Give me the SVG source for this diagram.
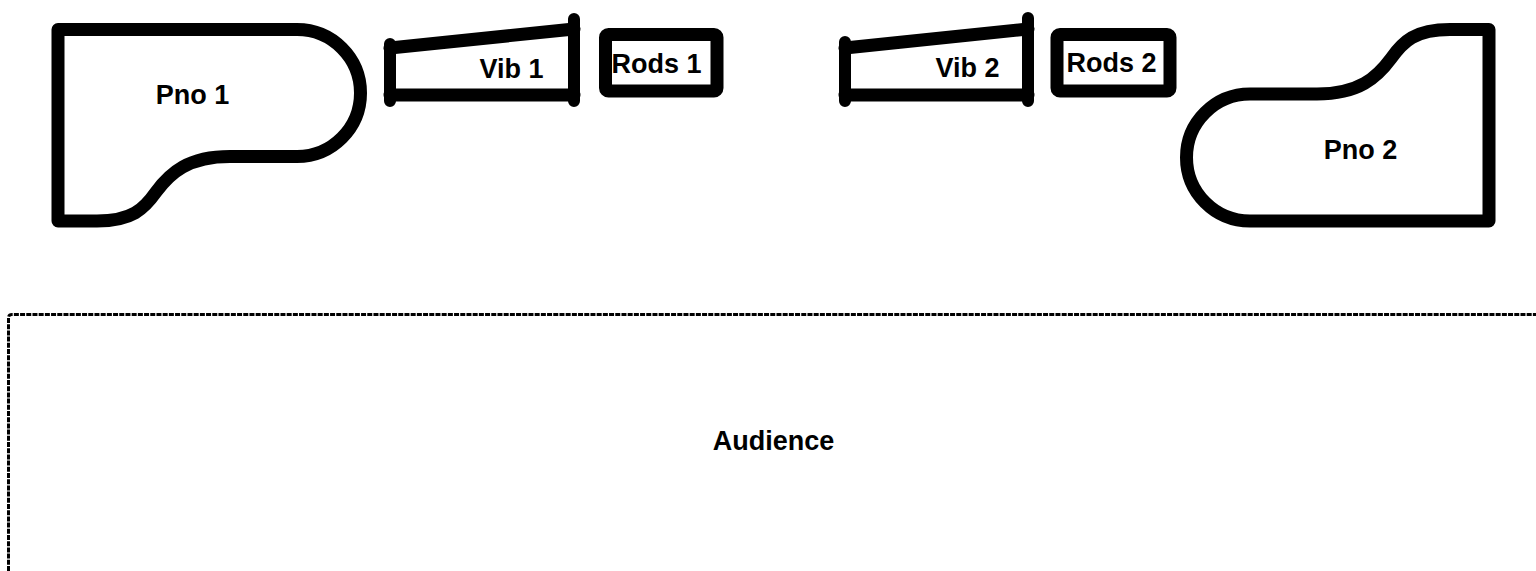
<svg xmlns="http://www.w3.org/2000/svg" width="1536" height="571" viewBox="0 0 1536 571">
<style>
.outline{fill:none;stroke:#000;stroke-width:13;stroke-linejoin:round;stroke-linecap:round}
.post{fill:none;stroke:#000;stroke-width:12;stroke-linecap:round}
.lbl{font-family:"Liberation Sans",Arial,sans-serif;font-weight:bold;font-size:27px;fill:#000}
.aud{fill:none;stroke:#000;stroke-width:3;stroke-dasharray:5 1.2}
</style>
<rect width="1536" height="571" fill="#fff"/>
<g id="pno1">
<path class="outline" d="M58,29.5 H297 A63.5,63.5 0 0 1 297,156.5 H230 C188,156.5 170,173 156,192 C144,209 132,221 97,221 H58 Z"/>
<text class="lbl" x="192.5" y="103.5" text-anchor="middle" font-size="25.5">Pno 1</text>
</g>
<g id="vib1">
<path class="outline" d="M390,48 L574,29 M390,95 H574" stroke-width="14"/>
<path class="post" d="M390,44 V101 M574,19 V101"/>
<text class="lbl" x="511.5" y="78" text-anchor="middle">Vib 1</text>
</g>
<g id="rods1">
<rect class="outline" x="605.5" y="34.5" width="111.5" height="56.5" rx="3" stroke-width="14"/>
<text class="lbl" x="656.5" y="72.5" text-anchor="middle" font-size="28.5">Rods 1</text>
</g>
<g id="vib2">
<path class="outline" d="M845,48 L1028,29 M845,95 H1028" stroke-width="14"/>
<path class="post" d="M845,42 V101 M1028,18 V101"/>
<text class="lbl" x="967.5" y="77" text-anchor="middle">Vib 2</text>
</g>
<g id="rods2">
<rect class="outline" x="1057" y="34.5" width="113" height="56.5" rx="3" stroke-width="14"/>
<text class="lbl" x="1111.5" y="72" text-anchor="middle" font-size="28.5">Rods 2</text>
</g>
<g id="pno2">
<path class="outline" transform="translate(1547,250.5) rotate(180)" d="M58,29.5 H297 A63.5,63.5 0 0 1 297,156.5 H230 C188,156.5 170,173 156,192 C144,209 132,221 97,221 H58 Z"/>
<text class="lbl" x="1360.5" y="158.5" text-anchor="middle" font-size="27">Pno 2</text>
</g>
<g id="audience">
<path class="aud" d="M8.5,571 V318 Q8.5,314.5 12,314.5 H1536"/>
<text class="lbl" x="773.5" y="449.5" text-anchor="middle" font-size="27">Audience</text>
</g>
</svg>
